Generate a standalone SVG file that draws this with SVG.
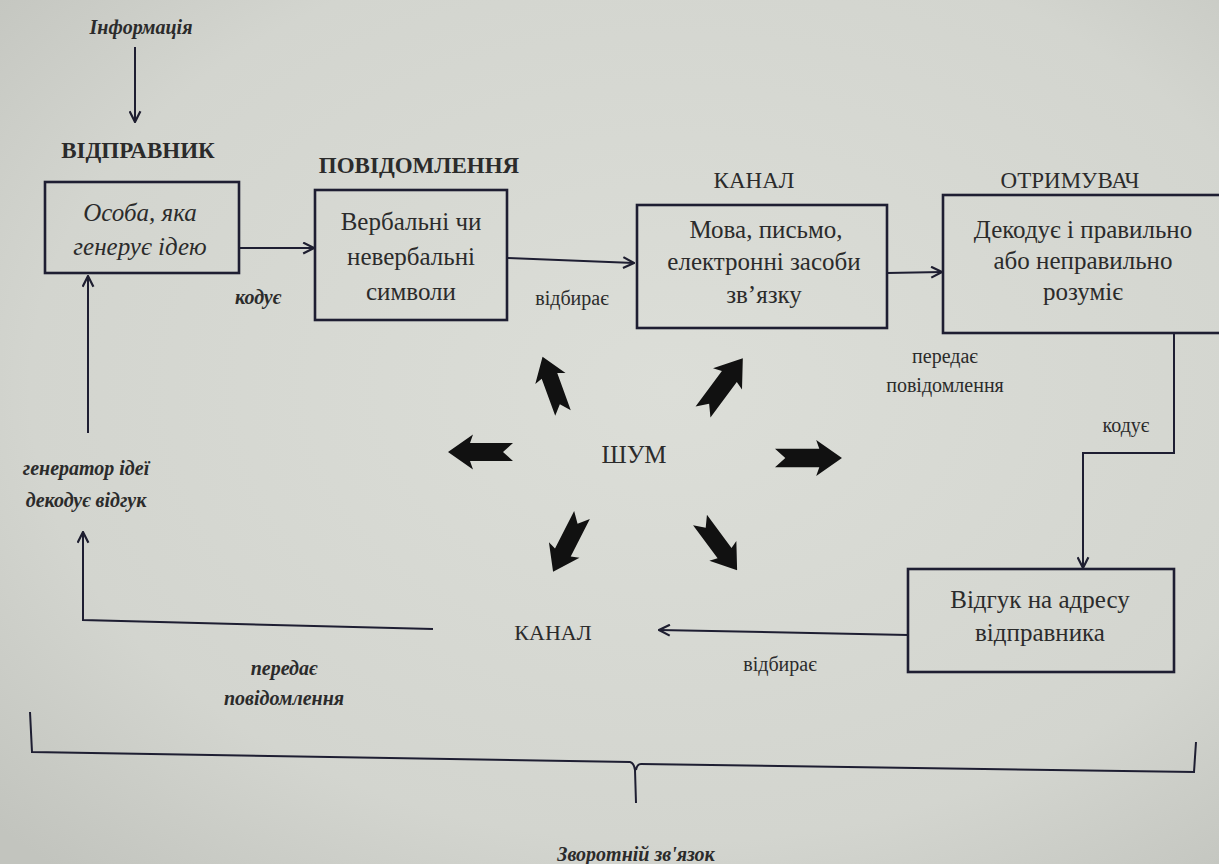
<svg xmlns="http://www.w3.org/2000/svg" width="1219" height="864" viewBox="0 0 1219 864">
<defs>
<radialGradient id="bg" cx="0.55" cy="0.45" r="0.75">
<stop offset="0" stop-color="#dcded8"/>
<stop offset="0.7" stop-color="#d3d5cf"/>
<stop offset="1" stop-color="#c2c4be"/>
</radialGradient>
<marker id="ah" viewBox="0 0 12 12" refX="11" refY="6" markerWidth="13" markerHeight="13" markerUnits="userSpaceOnUse" orient="auto">
<path d="M1,1 L11,6 L1,11" fill="none" stroke="#1e1e30" stroke-width="2"/>
</marker>
<path id="na" d="M0,-9 L43,-9 L40,-17.5 L65,0 L40,17.5 L43,9 L0,9 L10,0 Z" fill="#111"/>
</defs>
<style>
.box{fill:none;stroke:#1e1e32;stroke-width:2.6}
.ln{fill:none;stroke:#1e1e32;stroke-width:2}
.t{font-family:"Liberation Serif","Times New Roman",serif;fill:#2b2b2b;text-anchor:middle}
.bx{font-size:25px}
.hd{font-size:23px}
.sm{font-size:20px}
.it{font-style:italic;font-weight:bold}
</style>
<rect x="0" y="0" width="1219" height="864" fill="url(#bg)"/>

<g id="connectors">
<line class="ln" x1="135" y1="47" x2="135" y2="122" marker-end="url(#ah)"/>
<line class="ln" x1="239" y1="248" x2="314" y2="248" marker-end="url(#ah)"/>
<line class="ln" x1="507" y1="258" x2="634" y2="263" marker-end="url(#ah)"/>
<line class="ln" x1="887" y1="273" x2="942" y2="272" marker-end="url(#ah)"/>
<polyline class="ln" points="1174,334 1174,453 1083,453 1083,568" marker-end="url(#ah)"/>
<line class="ln" x1="908" y1="635" x2="659" y2="630" marker-end="url(#ah)"/>
<polyline class="ln" points="433,629 83,620 83,532" marker-end="url(#ah)"/>
<line class="ln" x1="88" y1="433" x2="88" y2="276" marker-end="url(#ah)"/>
<path class="ln" d="M30,712 L32,752 L630,762 Q634,763 635,770 L636,803 M636,770 Q637,764 641,764 L1194,772 L1196,742"/>
</g>

<g id="noise">
<text class="t" x="634" y="463" style="font-size:25px">ШУМ</text>
<use href="#na" transform="translate(563,413) rotate(-110) scale(0.92)"/>
<use href="#na" transform="translate(703,412) rotate(-53.5) scale(1.03)"/>
<use href="#na" transform="translate(513,452) rotate(180)"/>
<use href="#na" transform="translate(775,458) scale(1.03)"/>
<use href="#na" transform="translate(582,515) rotate(117) scale(0.98)"/>
<use href="#na" transform="translate(700,520) rotate(53.5) scale(0.96)"/>
</g>

<g id="info">
<text class="t sm it" x="141" y="34">Інформація</text>
</g>

<g id="sender">
<text class="t hd" x="138" y="158" style="font-weight:bold">ВІДПРАВНИК</text>
<rect class="box" x="45" y="182" width="194" height="91"/>
<text class="t bx it" style="font-weight:normal" x="140" y="221">Особа, яка</text>
<text class="t bx it" style="font-weight:normal" x="140" y="255">генерує ідею</text>
</g>

<g id="message">
<text class="t hd" x="419" y="173" style="font-weight:bold">ПОВІДОМЛЕННЯ</text>
<rect class="box" x="315" y="190" width="192" height="130"/>
<text class="t bx" x="411" y="230">Вербальні чи</text>
<text class="t bx" x="411" y="265">невербальні</text>
<text class="t bx" x="411" y="300">символи</text>
</g>

<g id="channel1">
<text class="t hd" x="754" y="188">КАНАЛ</text>
<rect class="box" x="637" y="205" width="250" height="123"/>
<text class="t bx" x="766" y="238">Мова, письмо,</text>
<text class="t bx" x="764" y="270">електронні засоби</text>
<text class="t bx" x="764" y="303">зв’язку</text>
</g>

<g id="receiver">
<text class="t hd" x="1070" y="188">ОТРИМУВАЧ</text>
<rect class="box" x="943" y="195" width="290" height="138"/>
<text class="t bx" x="1083" y="238">Декодує і правильно</text>
<text class="t bx" x="1083" y="269">або неправильно</text>
<text class="t bx" x="1083" y="300">розуміє</text>
</g>

<g id="response">
<rect class="box" x="908" y="569" width="266" height="103"/>
<text class="t bx" x="1040" y="608">Відгук на адресу</text>
<text class="t bx" x="1040" y="641">відправника</text>
</g>

<g id="labels">
<text class="t sm it" x="258" y="304">кодує</text>
<text class="t sm" x="572" y="305">відбирає</text>
<text class="t sm" x="945" y="363">передає</text>
<text class="t sm" x="945" y="392">повідомлення</text>
<text class="t sm" x="1126" y="432">кодує</text>
<text class="t sm" x="780" y="671">відбирає</text>
<text class="t" x="553" y="640" style="font-size:22px">КАНАЛ</text>
<text class="t sm it" x="86" y="475">генератор ідеї</text>
<text class="t sm it" x="86" y="507">декодує відгук</text>
<text class="t sm it" x="284" y="675">передає</text>
<text class="t sm it" x="284" y="705">повідомлення</text>
<text class="t sm it" x="636" y="861">Зворотній зв'язок</text>
</g>
</svg>
